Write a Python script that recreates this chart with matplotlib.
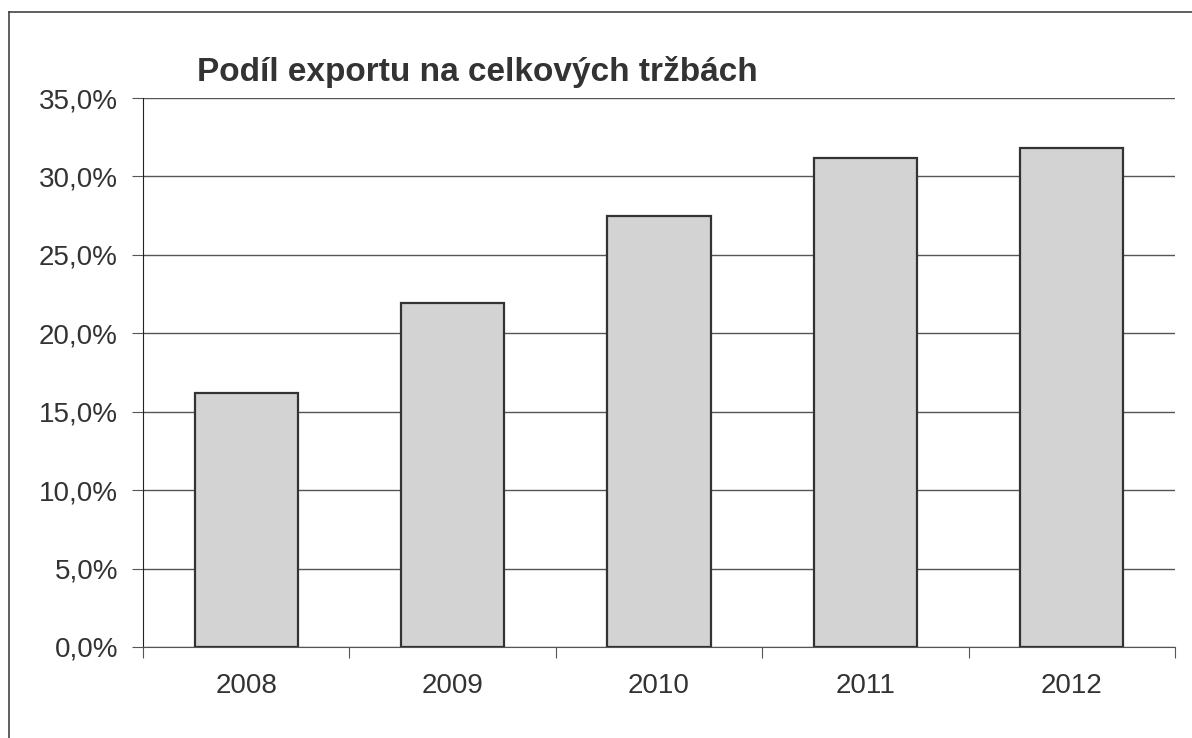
import numpy as np
import matplotlib.pyplot as plt
from matplotlib.lines import Line2D
from matplotlib.ticker import FuncFormatter

# data
years = ['2008', '2009', '2010', '2011', '2012']
export_share = [16.2, 21.9, 27.5, 31.2, 31.8]
title = 'Podíl exportu na celkových tržbách'

plt.rcParams['font.family'] = ['Liberation Sans', 'DejaVu Sans']

fig = plt.figure(figsize=(11.92, 7.38), dpi=100)
ax = fig.add_axes([143 / 1192, 91 / 738, 1032 / 1192, 549 / 738])

x = np.arange(len(years))
ax.bar(x, export_share, width=0.5, color='#d3d3d3', edgecolor='#333333',
       linewidth=1.6, zorder=3)

ax.set_xlim(-0.5, len(years) - 0.5)
ax.set_ylim(0, 35)
ax.set_yticks(np.arange(0, 36, 5))
ax.yaxis.set_major_formatter(FuncFormatter(lambda v, p: f'{v:.1f}'.replace('.', ',') + '%'))
ax.grid(axis='y', color='#555555', linewidth=1.0, zorder=0)

# x ticks at category boundaries, labels centred
ax.set_xticks(np.arange(-0.5, len(years), 1.0))
ax.set_xticklabels([])
ax.set_xticks(x, minor=True)
ax.set_xticklabels(years, minor=True)
ax.tick_params(axis='x', which='major', length=8, color='#555555', direction='out')
ax.tick_params(axis='x', which='minor', length=0, pad=19, labelsize=20, labelcolor='#333333')
ax.tick_params(axis='y', length=8, color='#555555', pad=10, labelsize=20, labelcolor='#333333')

for s in ['top', 'right']:
    ax.spines[s].set_visible(False)
ax.spines['left'].set_color('#222222')
ax.spines['bottom'].set_color('#555555')

fig.text(197 / 1192, 1 - 81 / 738, title, fontsize=24, fontweight='bold',
         color='#333333', va='baseline', ha='left')

# chart frame (left and top edges visible)
fig.add_artist(Line2D([8.5 / 1192, 8.5 / 1192], [0, 1 - 11.5 / 738],
                      transform=fig.transFigure, color='#444444', linewidth=1.2))
fig.add_artist(Line2D([8.5 / 1192, 1], [1 - 11.5 / 738, 1 - 11.5 / 738],
                      transform=fig.transFigure, color='#444444', linewidth=1.2))

fig.savefig('out.png', dpi=100)
